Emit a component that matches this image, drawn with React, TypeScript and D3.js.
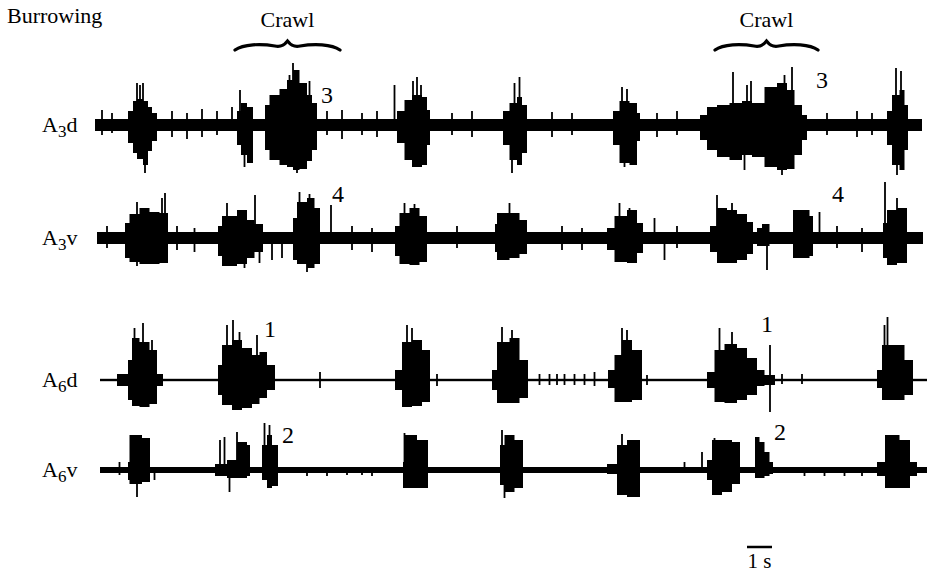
import * as d3 from 'd3';

// Recording: 33 s of burrowing, four nerve traces, two crawl episodes.
type Pt = [number, number, number]; // [time s, up, down]

const T_MAX = 33;

// ---- A3d ----
const a3dBursts: Pt[][] = [
  [[1.24, 14, 18], [1.44, 24, 28], [1.6, 26, 34], [1.84, 24, 40], [2.04, 18, 26], [2.2, 12, 16], [2.4, 0, 0]],
  [[5.6, 14, 20], [5.76, 22, 30], [6.0, 18, 38], [6.24, 0, 0]],
  [[6.72, 20, 25], [6.9, 30, 35], [7.3, 36, 40], [7.6, 45, 42], [7.84, 55, 45], [8.1, 42, 44], [8.4, 30, 36], [8.6, 22, 25], [8.8, 0, 0]],
  [[12.0, 14, 18], [12.3, 25, 35], [12.6, 30, 42], [13.0, 28, 40], [13.2, 15, 20], [13.32, 0, 0]],
  [[16.24, 14, 20], [16.5, 22, 35], [16.8, 28, 40], [17.0, 20, 28], [17.2, 0, 0]],
  [[20.64, 14, 20], [20.9, 24, 38], [21.3, 22, 40], [21.6, 12, 16], [21.72, 0, 0]],
  [[24.12, 10, 15], [24.4, 18, 25], [24.8, 20, 32], [25.3, 22, 35], [25.8, 24, 30], [26.2, 22, 32], [26.7, 38, 42], [27.2, 42, 45], [27.6, 35, 44], [27.9, 20, 30], [28.2, 10, 15], [28.4, 0, 0]],
  [[31.6, 14, 20], [31.8, 30, 40], [32.1, 35, 45], [32.3, 20, 25], [32.44, 0, 0]],
];
const a3dSpikes: Pt[] = [
  [1.6, 42, 0], [1.72, 40, 0], [1.84, 42, 0], [1.92, 0, 48],
  [5.72, 35, 0], [5.9, 0, 42], [5.4, 18, 0],
  [7.7, 50, 0], [7.84, 62, 0], [8.0, 0, 48], [8.5, 44, 0],
  [11.9, 40, 0], [12.64, 44, 0], [12.8, 48, 0], [12.96, 40, 0],
  [16.6, 0, 48], [16.7, 42, 0], [16.9, 48, 0],
  [21.0, 38, 0], [21.1, 0, 42], [21.2, 36, 0],
  [25.44, 53, 0], [25.9, 0, 45], [26.0, 40, 0], [26.16, 44, 0], [27.4, 0, 50], [27.5, 50, 0], [27.8, 58, 0],
  [31.96, 57, 0], [32.0, 0, 50], [32.16, 54, 0],
  [0.2, 15, 10], [0.6, 12, 8], [3.0, 14, 12], [3.6, 12, 14], [4.2, 16, 12], [4.8, 14, 10],
  [9.2, 14, 10], [9.8, 15, 14], [10.6, 12, 10], [11.2, 14, 12], [14.2, 12, 10], [15.0, 14, 12],
  [18.2, 13, 12], [19.0, 12, 10], [22.4, 12, 12], [23.2, 14, 10], [29.2, 12, 10], [30.4, 14, 12], [31.0, 12, 10],
];

// ---- A3v ----
const a3vBursts: Pt[][] = [
  [[1.12, 15, 20], [1.3, 24, 24], [1.7, 30, 26], [2.1, 26, 26], [2.5, 25, 25], [2.84, 0, 0]],
  [[4.84, 12, 18], [5.0, 22, 28], [5.6, 28, 26], [6.0, 18, 20], [6.3, 14, 14], [6.64, 0, 0]],
  [[7.84, 20, 22], [8.0, 36, 26], [8.4, 40, 30], [8.7, 30, 26], [8.92, 0, 0]],
  [[11.92, 12, 18], [12.1, 25, 26], [12.5, 30, 27], [12.9, 22, 24], [13.2, 0, 0]],
  [[15.92, 14, 14], [16.0, 25, 22], [16.5, 25, 20], [16.9, 18, 16], [17.2, 0, 0]],
  [[20.4, 10, 12], [20.7, 22, 24], [21.2, 28, 25], [21.6, 15, 15], [21.84, 0, 0]],
  [[24.52, 12, 14], [24.8, 30, 25], [25.2, 28, 25], [25.6, 24, 22], [26.0, 16, 16], [26.24, 0, 0]],
  [[26.4, 10, 8], [26.6, 14, 8], [26.9, 0, 0]],
  [[27.84, 28, 20], [28.5, 22, 18], [28.64, 0, 0]],
  [[31.44, 15, 20], [31.6, 28, 27], [32.0, 30, 25], [32.4, 0, 0]],
];
const a3vSpikes: Pt[] = [
  [1.6, 36, 0], [1.6, 0, 28], [2.6, 40, 0], [2.72, 45, 0],
  [5.2, 35, 0], [5.9, 0, 30], [6.32, 43, 0], [6.5, 0, 25],
  [7.0, 0, 22], [7.4, 0, 20], [8.1, 46, 0], [8.4, 0, 34], [8.5, 44, 0], [9.36, 33, 0],
  [12.3, 35, 0], [12.7, 34, 0], [16.5, 35, 0],
  [20.9, 35, 0], [21.3, 30, 0], [22.3, 20, 0], [22.7, 0, 22],
  [24.8, 43, 0], [25.4, 35, 0], [26.8, 0, 32], [28.9, 26, 0],
  [31.52, 56, 0], [32.0, 40, 0],
  [0.4, 12, 10], [3.2, 12, 12], [3.9, 10, 14], [10.2, 12, 12], [11.0, 10, 14], [14.4, 12, 10], [18.6, 12, 12], [19.4, 10, 12], [23.2, 12, 10], [29.6, 12, 10], [30.6, 10, 14],
];

// ---- A6d ----
const a6dBursts: Pt[][] = [
  [[0.8, 6, 6], [1.24, 20, 20], [1.4, 42, 26], [1.7, 38, 27], [2.1, 30, 24], [2.4, 6, 6], [2.64, 0, 0]],
  [[4.84, 15, 15], [5.0, 35, 25], [5.4, 40, 30], [5.8, 32, 28], [6.2, 25, 24], [6.5, 28, 18], [6.8, 15, 10], [7.12, 0, 0]],
  [[11.92, 10, 10], [12.2, 38, 27], [12.6, 40, 26], [13.0, 30, 22], [13.32, 0, 0]],
  [[15.8, 10, 10], [16.0, 38, 23], [16.5, 42, 23], [16.9, 20, 18], [17.24, 0, 0]],
  [[20.44, 10, 8], [20.7, 25, 22], [21.0, 40, 22], [21.4, 30, 20], [21.8, 0, 0]],
  [[24.4, 8, 8], [24.7, 30, 22], [25.1, 36, 23], [25.6, 32, 20], [26.0, 22, 15], [26.4, 10, 6], [26.7, 5, 5], [27.12, 0, 0]],
  [[31.2, 10, 8], [31.4, 35, 20], [31.8, 35, 20], [32.3, 20, 15], [32.64, 0, 0]],
];
const a6dSpikes: Pt[] = [
  [1.5, 52, 0], [1.84, 57, 0], [2.2, 40, 0],
  [5.2, 55, 0], [5.44, 60, 0], [5.7, 48, 0], [6.4, 45, 0],
  [8.92, 8, 8], [12.4, 55, 0], [12.6, 52, 0], [13.6, 6, 6],
  [16.2, 53, 0], [16.6, 50, 0],
  [17.7, 6, 5], [18.1, 6, 5], [18.4, 6, 5], [18.7, 6, 5], [19.1, 6, 5], [19.5, 6, 5], [19.9, 8, 6],
  [21.0, 52, 0], [21.2, 50, 0], [22.0, 5, 5],
  [24.9, 52, 0], [25.4, 48, 0], [26.92, 35, 32], [27.4, 6, 4], [28.2, 6, 4],
  [31.5, 55, 0], [31.62, 63, 0],
];

// ---- A6v ----
const a6vBursts: Pt[][] = [
  [[1.24, 8, 10], [1.3, 35, 14], [1.8, 32, 12], [2.12, 0, 0]],
  [[4.72, 6, 6], [5.2, 10, 8], [5.6, 28, 8], [6.0, 25, 6], [6.12, 0, 0]],
  [[6.6, 25, 10], [6.8, 35, 18], [7.0, 25, 16], [7.24, 0, 0]],
  [[12.24, 8, 18], [12.3, 35, 18], [12.8, 30, 18], [13.24, 0, 0]],
  [[16.12, 25, 15], [16.3, 35, 22], [16.7, 30, 18], [17.04, 0, 0]],
  [[20.4, 6, 4], [20.8, 25, 25], [21.2, 30, 27], [21.72, 0, 0]],
  [[24.4, 10, 10], [24.6, 30, 25], [25.0, 30, 22], [25.4, 28, 14], [25.72, 0, 0]],
  [[26.32, 33, 8], [26.5, 28, 8], [26.7, 18, 6], [26.9, 8, 4], [27.04, 0, 0]],
  [[31.2, 8, 6], [31.52, 35, 18], [32.1, 30, 18], [32.52, 8, 6], [32.8, 0, 0]],
];
const a6vSpikes: Pt[] = [
  [0.9, 8, 5], [1.6, 0, 27], [2.3, 0, 10],
  [4.92, 30, 0], [5.1, 33, 0], [5.3, 0, 22], [5.6, 38, 0], [6.7, 47, 0], [6.9, 45, 0],
  [8.4, 0, 6], [9.2, 0, 6], [10.0, 0, 5], [10.6, 0, 5], [11.0, 0, 6],
  [12.3, 37, 0], [16.2, 40, 0], [16.3, 0, 28], [21.0, 36, 0],
  [24.2, 18, 0], [24.7, 32, 0], [23.5, 8, 0], [28.3, 0, 6], [29.1, 0, 6], [29.9, 0, 6], [30.6, 0, 6],
];

// trace names and baseline noise half-widths
const traceNames = ['3d', '3v', '6d', '6v'];
const traceNoise = [6, 6, 1.2, 3];
const traceSpan: [number, number][] = [[-0.08, 33.0], [0, 33.04], [0.12, 33.2], [0.12, 33.2]];
const traceBursts = [a3dBursts, a3vBursts, a6dBursts, a6vBursts];
const traceSpikes = [a3dSpikes, a3vSpikes, a6dSpikes, a6vSpikes];

// numbered annotations: [trace index, time, amplitude, label]
const marks: [number, number, number, string][] = [
  [0, 9.2, 22, '3'], [0, 29.0, 37, '3'],
  [1, 9.64, 36, '4'], [1, 29.64, 36, '4'],
  [2, 6.92, 43, '1'], [2, 26.8, 48, '1'],
  [3, 7.64, 27, '2'], [3, 27.32, 30, '2'],
];

// crawl episodes: [start s, end s]
const crawls: [number, number][] = [[5.52, 9.72], [24.72, 28.84]];

// time calibration bar: [start s, end s]
const scaleBar: [number, number] = [26, 27];

export default function App() {
  const laneY = [125, 238, 380, 470];
  const x = d3.scaleLinear().domain([0, T_MAX]).range([97, 922]);
  const font = '"Liberation Serif", "Times New Roman", serif';

  const bracePath = (t0: number, t1: number, y: number) => {
    const x0 = x(t0), x1 = x(t1), m = (x0 + x1) / 2, w = x1 - x0;
    const p = d3.path();
    p.moveTo(x0, y + 1);
    p.bezierCurveTo(x0 + 0.08 * w, y - 5, x0 + 0.25 * w, y - 5.5, x0 + 0.38 * w, y - 3);
    p.bezierCurveTo(m - 0.06 * w, y - 1.5, m - 0.03 * w, y - 4, m, y - 8);
    p.bezierCurveTo(m + 0.03 * w, y - 4, m + 0.06 * w, y - 1.5, x1 - 0.38 * w, y - 3);
    p.bezierCurveTo(x1 - 0.25 * w, y - 5.5, x1 - 0.08 * w, y - 5, x1, y + 1);
    return p.toString();
  };

  return (
    <svg width={929} height={574} style={{ position: 'absolute', left: 0, top: 0, background: '#fff' }}
      fontFamily={font}>
      <text x={7} y={23} fontSize={22}>Burrowing</text>

      {crawls.map(([t0, t1], i) => (
        <g key={'c' + i}>
          <text x={x((t0 + t1) / 2)} y={27} fontSize={22} textAnchor="middle">Crawl</text>
          <path d={bracePath(t0, t1, 49)} fill="none" stroke="#000" strokeWidth={3.2} strokeLinecap="round" />
        </g>
      ))}

      {traceNames.map((nm, i) => {
        const base = laneY[i];
        const y = d3.scaleLinear().domain([-70, 70]).range([base + 70, base - 70]);
        const area = d3.area<Pt>()
          .x(d => x(d[0]))
          .y0(d => y(-d[2]))
          .y1(d => y(d[1]))
          .curve(d3.curveStepAfter);
        const [s, e] = traceSpan[i];
        const n = traceNoise[i];
        return (
          <g key={nm}>
            <text x={42} y={base + 7} fontSize={22}>
              A<tspan fontSize={17} dy={5}>{nm[0]}</tspan><tspan dy={-5}>{nm[1]}</tspan>
            </text>
            <rect x={x(s)} y={y(n)} width={x(e) - x(s)} height={y(-n) - y(n)} fill="#000" />
            {traceBursts[i].map((b, j) => (
              <path key={j} d={area(b) ?? ''} fill="#000" />
            ))}
            {traceSpikes[i].map((sp, j) => (
              <line key={'s' + j} x1={x(sp[0])} x2={x(sp[0])} y1={y(-sp[2] || -n)} y2={y(sp[1] || n)}
                stroke="#000" strokeWidth={1.8} />
            ))}
          </g>
        );
      })}

      {marks.map(([ti, t, a, lbl], i) => {
        const base = laneY[ti];
        const y = d3.scaleLinear().domain([-70, 70]).range([base + 70, base - 70]);
        return (
          <text key={'m' + i} x={x(t)} y={y(a)} fontSize={24} textAnchor="middle">{lbl}</text>
        );
      })}

      <line x1={x(scaleBar[0])} x2={x(scaleBar[1])} y1={547} y2={547} stroke="#000" strokeWidth={2.5} />
      <text x={x((scaleBar[0] + scaleBar[1]) / 2)} y={568} fontSize={21} textAnchor="middle">1 s</text>
    </svg>
  );
}
